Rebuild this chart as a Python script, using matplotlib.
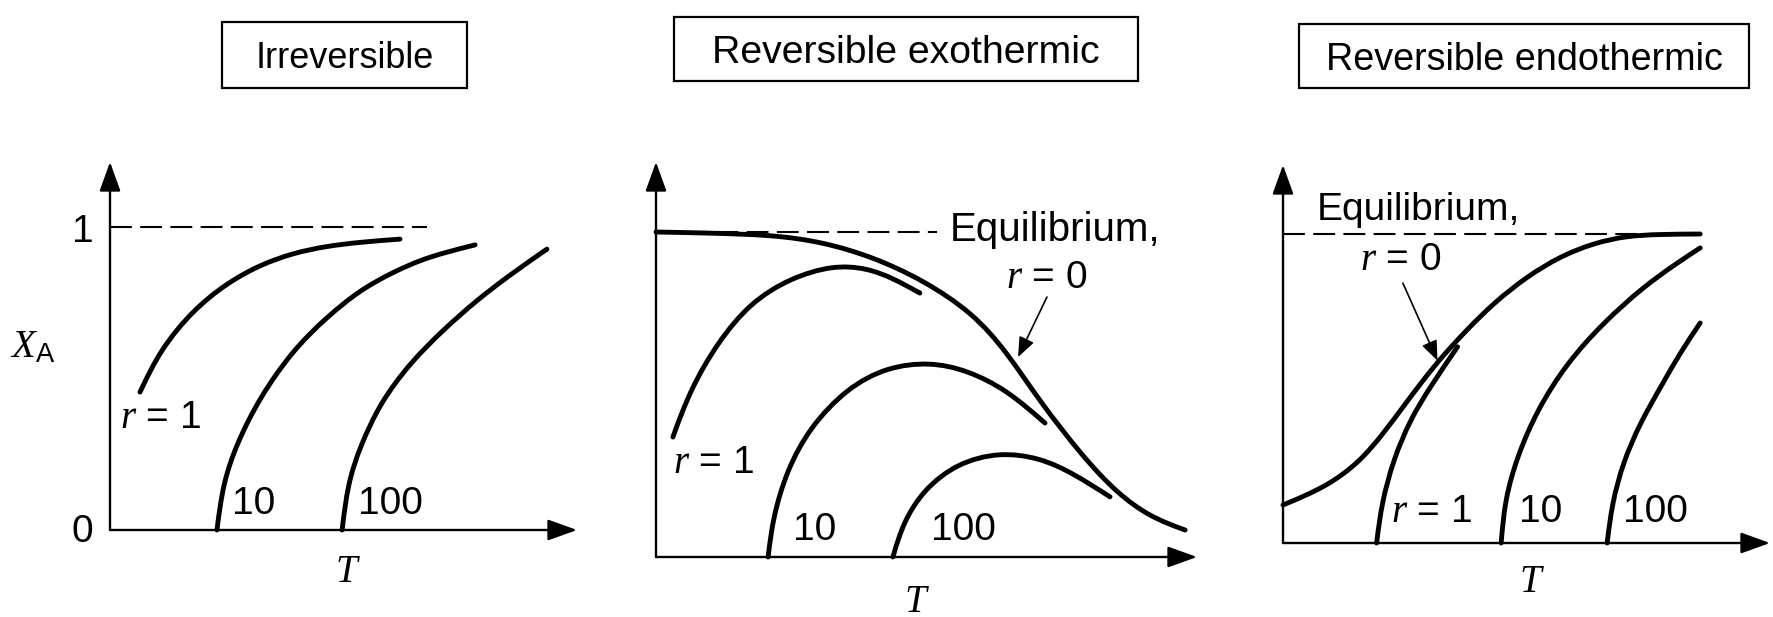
import numpy as np
import matplotlib
matplotlib.use("Agg")
import matplotlib.pyplot as plt
from matplotlib.path import Path
from matplotlib.patches import PathPatch, Rectangle

# ---------------------------------------------------------------- data
titles = ["Irreversible", "Reversible exothermic", "Reversible endothermic"]
rate_labels = ["$r$ = 1", "10", "100"]
eq_label = "Equilibrium,"
eq_rate_label = "$r$ = 0"

# Irreversible: conversion X_A vs temperature T for r = 1, 10, 100
irr_T_r1 = [0.099, 0.165, 0.274, 0.386, 0.495, 0.604, 0.716, 0.825, 0.957]
irr_X_r1 = [0.455, 0.594, 0.726, 0.815, 0.875, 0.914, 0.937, 0.950, 0.960]
irr_T_r10 = [0.353, 0.373, 0.419, 0.495, 0.604, 0.716, 0.825, 0.934, 1.046, 1.205]
irr_X_r10 = [0.0, 0.155, 0.287, 0.439, 0.594, 0.703, 0.792, 0.851, 0.901, 0.941]
irr_T_r100 = [0.766, 0.785, 0.825, 0.891, 0.990, 1.099, 1.211, 1.320, 1.442]
irr_X_r100 = [0.0, 0.155, 0.274, 0.419, 0.551, 0.660, 0.759, 0.842, 0.927]
irr_T_limit = [0.0, 1.046]
irr_X_limit = [1.0, 1.0]

# Reversible exothermic
exo_T_eq = [0.0, 0.157, 0.36, 0.514, 0.668, 0.822, 0.975, 1.080, 1.182, 1.314, 1.418, 1.52, 1.628]
exo_X_eq = [1.0, 0.997, 0.991, 0.969, 0.923, 0.852, 0.751, 0.630, 0.477, 0.308, 0.197, 0.123, 0.083]
exo_T_r1 = [0.052, 0.105, 0.188, 0.289, 0.412, 0.545, 0.649, 0.729, 0.812]
exo_X_r1 = [0.369, 0.514, 0.658, 0.782, 0.858, 0.898, 0.889, 0.858, 0.812]
exo_T_r10 = [0.345, 0.360, 0.403, 0.474, 0.588, 0.711, 0.843, 0.957, 1.080, 1.197]
exo_X_r10 = [0.0, 0.123, 0.268, 0.4, 0.52, 0.585, 0.6, 0.575, 0.514, 0.412]
exo_T_r100 = [0.729, 0.760, 0.822, 0.926, 1.058, 1.182, 1.283, 1.397]
exo_X_r100 = [0.0, 0.105, 0.206, 0.289, 0.323, 0.305, 0.258, 0.185]
exo_T_limit = [0.0, 0.865]
exo_X_limit = [1.0, 1.0]

# Reversible endothermic
endo_T_eq = [0.0, 0.141, 0.249, 0.325, 0.389, 0.454, 0.519, 0.594, 0.681, 0.789, 0.896, 1.004, 1.112, 1.220, 1.350]
endo_X_eq = [0.123, 0.182, 0.263, 0.355, 0.441, 0.528, 0.608, 0.689, 0.776, 0.862, 0.927, 0.970, 0.994, 0.999, 1.0]
endo_T_r1 = [0.303, 0.319, 0.357, 0.411, 0.476, 0.565]
endo_X_r1 = [0.0, 0.128, 0.269, 0.398, 0.505, 0.635]
endo_T_r10 = [0.706, 0.718, 0.757, 0.822, 0.919, 1.036, 1.165, 1.275, 1.350]
endo_X_r10 = [0.0, 0.139, 0.278, 0.430, 0.583, 0.712, 0.828, 0.906, 0.955]
endo_T_r100 = [1.049, 1.065, 1.100, 1.155, 1.230, 1.285, 1.350]
endo_X_r100 = [0.0, 0.129, 0.259, 0.388, 0.518, 0.615, 0.712]
endo_T_limit = [0.0, 1.35]
endo_X_limit = [1.0, 1.0]

# ---------------------------------------------------------------- style
plt.rcParams["font.family"] = ["Liberation Sans", "DejaVu Sans"]
plt.rcParams["mathtext.fontset"] = "custom"
plt.rcParams["mathtext.it"] = "Liberation Serif:italic"
plt.rcParams["mathtext.rm"] = "Liberation Sans"
plt.rcParams["mathtext.bf"] = "Liberation Sans:bold"

W, H = 1773, 617
fig = plt.figure(figsize=(W / 100, H / 100), dpi=100)
fig.patch.set_facecolor("white")

LABEL_FS = 28
CURVE_LW = 3.5
AXIS_LW = 1.7


def smooth_path(t, x):
    """Clamped cubic B-spline path using the (t, x) points as its control polygon."""
    p = np.column_stack([t, x]).astype(float)
    c = np.vstack([p[0], p[0], p, p[-1], p[-1]])
    verts = [p[0]]
    codes = [Path.MOVETO]
    for i in range(1, len(c) - 2):
        b, d, e = c[i], c[i + 1], c[i + 2]
        verts += [(2 * b + d) / 3.0, (b + 2 * d) / 3.0, (b + 4 * d + e) / 6.0]
        codes += [Path.CURVE4] * 3
    return Path(verts, codes)


def curve(ax, t, x, lw=CURVE_LW):
    ax.add_patch(PathPatch(smooth_path(t, x), fill=False, lw=lw, ec="black",
                           capstyle="round", joinstyle="round", clip_on=False))


def dashed(ax, t, x):
    ax.plot(t, x, color="black", lw=1.5, ls=(0, (10.5, 4.0)), clip_on=False,
            solid_capstyle="butt", dash_capstyle="butt")


def make_axes(ox, oy, unit, xend, ytip):
    """Axes whose origin sits at pixel (ox, oy); X_A = 1 is `unit` pixels tall."""
    ax = fig.add_axes([ox / W, (H - oy) / H, (xend - ox) / W, (oy - ytip) / H])
    ax.set_xlim(0, (xend - ox) / unit)
    ax.set_ylim(0, (oy - ytip) / unit)
    ax.axis("off")
    arrow = dict(arrowstyle="-|>,head_length=0.5,head_width=0.18", lw=AXIS_LW,
                 color="black", mutation_scale=36, shrinkA=0, shrinkB=0)
    ax.annotate("", xy=(0, 1), xytext=(0, 0), xycoords="axes fraction", arrowprops=arrow)
    ax.annotate("", xy=(1, 0), xytext=(0, 0), xycoords="axes fraction", arrowprops=arrow)
    return ax


def title_box(x0, y0, x1, y1, text, size):
    fig.add_artist(Rectangle((x0 / W, 1 - y1 / H), (x1 - x0) / W, (y1 - y0) / H,
                             transform=fig.transFigure, fill=False, lw=1.6, ec="black"))
    fig.text((x0 + x1) / 2 / W, 1 - (y0 + y1) / 2 / H, text, ha="center",
             va="center_baseline", fontsize=size)


def pointer(ax, tail, tip):
    ax.annotate("", xy=tip, xytext=tail,
                arrowprops=dict(arrowstyle="-|>,head_length=0.55,head_width=0.22",
                                lw=1.2, color="black", mutation_scale=22,
                                shrinkA=0, shrinkB=0))


def txt(ax, t, x, s, ha="center", size=LABEL_FS):
    ax.text(t, x, s, ha=ha, va="center", fontsize=size)


# ---------------------------------------------------------------- irreversible
title_box(222, 22, 467, 88, titles[0], 26)
ax1 = make_axes(110, 530, 303, 577, 162)
dashed(ax1, irr_T_limit, irr_X_limit)
curve(ax1, irr_T_r1, irr_X_r1)
curve(ax1, irr_T_r10, irr_X_r10)
curve(ax1, irr_T_r100, irr_X_r100)
txt(ax1, -0.089, 0.985, "1")
txt(ax1, -0.092, -0.007, "0")
ax1.text(-0.254, 0.604, r"$X_\mathrm{A}$", ha="center", va="center", fontsize=LABEL_FS)
txt(ax1, 0.168, 0.37, rate_labels[0])
txt(ax1, 0.475, 0.086, rate_labels[1])
txt(ax1, 0.924, 0.086, rate_labels[2])
txt(ax1, 0.785, -0.139, "$T$")

# ---------------------------------------------------------------- exothermic
title_box(674, 17, 1138, 81, titles[1], 28.3)
ax2 = make_axes(656, 557, 325, 1197, 162)
dashed(ax2, exo_T_limit, exo_X_limit)
curve(ax2, exo_T_eq, exo_X_eq)
curve(ax2, exo_T_r1, exo_X_r1)
curve(ax2, exo_T_r10, exo_X_r10)
curve(ax2, exo_T_r100, exo_X_r100)
txt(ax2, 0.905, 1.006, eq_label, ha="left", size=29)
txt(ax2, 1.203, 0.858, eq_rate_label)
pointer(ax2, (1.203, 0.80), (1.114, 0.615))
txt(ax2, 0.178, 0.289, rate_labels[0])
txt(ax2, 0.489, 0.083, rate_labels[1])
txt(ax2, 0.945, 0.083, rate_labels[2])
txt(ax2, 0.803, -0.138, "$T$")

# ---------------------------------------------------------------- endothermic
title_box(1299, 24, 1749, 88, titles[2], 27.2)
ax3 = make_axes(1283, 543, 309, 1770, 165)
dashed(ax3, endo_T_limit, endo_X_limit)
curve(ax3, endo_T_eq, endo_X_eq)
curve(ax3, endo_T_r1, endo_X_r1)
curve(ax3, endo_T_r10, endo_X_r10)
curve(ax3, endo_T_r100, endo_X_r100)
txt(ax3, 0.110, 1.078, eq_label, ha="left")
txt(ax3, 0.382, 0.916, eq_rate_label)
pointer(ax3, (0.388, 0.841), (0.50, 0.59))
txt(ax3, 0.48, 0.10, rate_labels[0])
txt(ax3, 0.835, 0.10, rate_labels[1])
txt(ax3, 1.204, 0.10, rate_labels[2])
txt(ax3, 0.806, -0.126, "$T$")

fig.savefig("out.png", dpi=100, facecolor="white")
